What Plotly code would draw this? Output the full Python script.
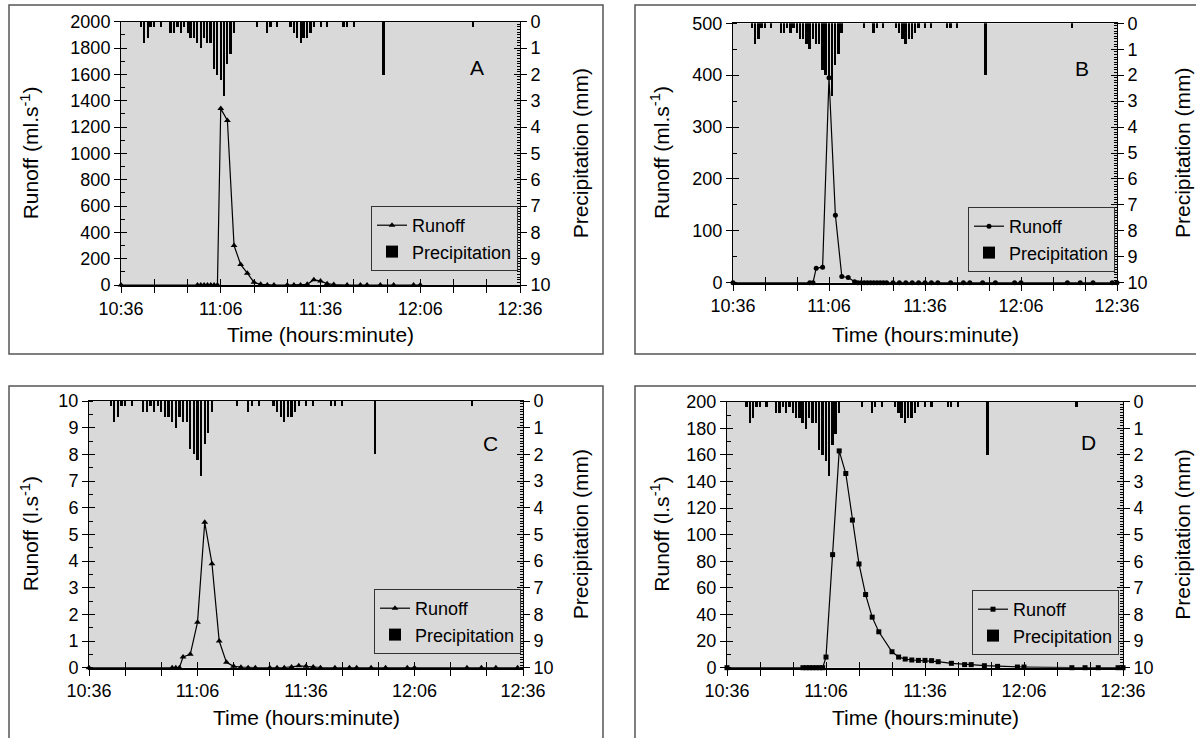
import plotly.graph_objects as go

W, H = 1196, 738

# ---------------- data ----------------
# time axis: minutes after 10:36
tick_minutes = [0, 30, 60, 90, 120]
tick_labels = ["10:36", "11:06", "11:36", "12:06", "12:36"]

# precipitation (mm) per minute (same rainfall record in all panels)
precip_min = [6, 7, 8, 9, 10, 12,
              15, 16, 17, 18, 19, 20, 21, 22, 23, 24, 25, 26, 27, 28, 29, 30, 31, 32, 33, 34,
              41, 44, 45, 47,
              51, 52, 53, 54, 55, 56, 57, 58,
              60, 62, 67, 68, 70, 79, 106]
precip_mm = [0.2, 0.8, 0.6, 0.2, 0.2, 0.2,
             0.4, 0.4, 0.2, 0.4, 0.2, 0.4, 0.6, 0.6, 0.8, 1.0, 0.6, 0.8, 0.8, 1.8, 2.0, 2.2, 2.8, 1.6, 1.2, 0.4,
             0.2, 0.4, 0.2, 0.2,
             0.2, 0.4, 0.6, 0.8, 0.6, 0.6, 0.4, 0.2,
             0.2, 0.2, 0.2, 0.2, 0.2, 2.0, 0.2]

# Panel A runoff (ml/s)
runoff_A_min = [0, 23, 24, 25, 26, 27, 28, 29, 30, 32, 34, 36, 38, 40, 42, 44, 46,
                50, 52, 54, 56, 58, 60, 62, 64, 68, 72, 74, 78, 82, 88, 90]
runoff_A = [0, 0, 0, 0, 0, 0, 0, 0, 1340, 1250, 300, 155, 90, 20, 5, 0, 0,
            0, 0, 0, 5, 40, 30, 10, 3, 0, 0, 0, 0, 0, 0, 0]

# Panel B runoff (ml/s)
runoff_B_min = [0, 24, 25, 26, 28, 30, 32, 34, 36, 38,
                39, 40, 41, 42, 43, 44, 45, 46, 47, 48,
                50, 52, 54, 56, 58, 60, 62, 64, 68, 72, 74, 78, 82, 88, 90,
                104.5, 108.5, 112.5, 118.5, 120]
runoff_B = [0, 0, 0, 28, 30, 395, 130, 12, 10, 2,
            0, 0, 0, 0, 0, 0, 0, 0, 0, 0,
            0, 0, 0, 0, 0, 0, 0, 0, 0, 0, 0, 0, 0, 0, 0,
            0, 0, 0, 0, 0]

# Panel C runoff (l/s)
runoff_C_min = [0, 23, 24, 25, 26, 28, 30, 32, 34, 36, 38, 40, 42, 44, 46,
                50, 52, 54, 56, 58, 60, 62, 64, 68, 72, 74, 78, 82, 88, 90,
                104.5, 108.5, 112.5, 118.5]
runoff_C = [0, 0, 0, 0, 0.4, 0.5, 1.7, 5.45, 3.9, 1.0, 0.2, 0.05, 0.02, 0, 0,
            0, 0, 0, 0.03, 0.07, 0.05, 0.03, 0, 0, 0, 0, 0, 0, 0, 0,
            0, 0, 0, 0]

# Panel D runoff (l/s)
runoff_D_min = [0, 23, 24, 25, 26, 27, 28, 29, 30, 32, 34, 36, 38, 40, 42, 44, 46,
                50, 52, 54, 56, 58, 60, 62, 64, 68, 72, 74, 78, 82, 88, 90,
                104.5, 108.5, 112.5, 118.5, 120]
runoff_D = [0, 0, 0, 0, 0, 0, 0, 0, 8, 85, 163, 146, 111, 78, 55, 38, 27,
            12, 8, 6.5, 5.8, 5.5, 5.5, 5.3, 4.5, 3.3, 2.3, 2.3, 1.5, 1, 0.5, 0.5,
            0, 0, 0, 0, 0]

# ---------------- layout per panel (pixels) ----------------
panels = [
    dict(letter="A", t=runoff_A_min, v=runoff_A, sym="triangle-up", msize=6, ymax=2000, dtick=200,
         ytitle="Runoff (ml.s<sup>-1</sup>)", plot=(121, 520, 21.7, 285), box=(9, 603, 5, 354),
         letter_xy=(477, 67), legend_xy=(518, 271), ytitle_x=30, rtitle_x=580, xtitle_y=334),
    dict(letter="B", t=runoff_B_min, v=runoff_B, sym="circle", msize=5, ymax=500, dtick=100,
         ytitle="Runoff (ml.s<sup>-1</sup>)", plot=(733, 1117, 23.3, 282.7), box=(635, 1210, 5, 354),
         letter_xy=(1082, 68), legend_xy=(1115, 272), ytitle_x=660, rtitle_x=1183, xtitle_y=334),
    dict(letter="C", t=runoff_C_min, v=runoff_C, sym="triangle-up", msize=6, ymax=10, dtick=1,
         ytitle="Runoff (l.s<sup>-1</sup>)", plot=(89, 523, 401, 667.7), box=(9, 603, 386, 750),
         letter_xy=(490, 443), legend_xy=(521, 654), ytitle_x=30, rtitle_x=580, xtitle_y=717),
    dict(letter="D", t=runoff_D_min, v=runoff_D, sym="square", msize=5, ymax=200, dtick=20,
         ytitle="Runoff (l.s<sup>-1</sup>)", plot=(727, 1123, 401.7, 667.7), box=(635, 1210, 386, 750),
         letter_xy=(1088, 442), legend_xy=(1119, 655), ytitle_x=660, rtitle_x=1183, xtitle_y=717),
]

FONT = "Liberation Sans, Arial, Helvetica, sans-serif"
GRAY = "#d9d9d9"
TICK_FS = 18
TITLE_FS = 21

def ax_name(kind, n):
    return kind if n == 1 else f"{kind}{n}"

def ax_key(kind, n):
    return f"{kind}axis" if n == 1 else f"{kind}axis{n}"

fig = go.Figure()
layout = dict(width=W, height=H, margin=dict(l=0, r=0, t=0, b=0, pad=0, autoexpand=False),
              paper_bgcolor="white", plot_bgcolor=GRAY,
              font=dict(family=FONT, size=TICK_FS, color="black"),
              showlegend=True, bargap=0, shapes=[], annotations=[])

minor_step = 10

for k, p in enumerate(panels):
    xm, xo = 2 * k + 1, 2 * k + 2
    yl, yr, ylo, yro = 4 * k + 1, 4 * k + 2, 4 * k + 3, 4 * k + 4
    X0, X1, Y0, Y1 = p["plot"]
    xdom = [X0 / W, X1 / W]
    ydom = [1 - Y1 / H, 1 - Y0 / H]
    leg = "legend" if k == 0 else f"legend{k + 1}"

    fig.add_trace(go.Scatter(x=p["t"], y=p["v"], mode="lines+markers", name="Runoff",
                             line=dict(color="black", width=1.2),
                             marker=dict(symbol=p["sym"], size=p["msize"], color="black"),
                             xaxis=ax_name("x", xm), yaxis=ax_name("y", yl),
                             legend=leg, cliponaxis=False))
    fig.add_trace(go.Bar(x=precip_min, y=precip_mm, width=0.6, name="Precipitation",
                         marker=dict(color="black", line=dict(width=0)),
                         xaxis=ax_name("x", xm), yaxis=ax_name("y", yr), legend=leg))
    # helper traces so the overlay tick axes are drawn
    fig.add_trace(go.Scatter(x=[None], y=[None], xaxis=ax_name("x", xo), yaxis=ax_name("y", yl),
                             showlegend=False, hoverinfo="skip"))
    fig.add_trace(go.Scatter(x=[None], y=[None], xaxis=ax_name("x", xm), yaxis=ax_name("y", ylo),
                             showlegend=False, hoverinfo="skip"))
    fig.add_trace(go.Scatter(x=[None], y=[None], xaxis=ax_name("x", xm), yaxis=ax_name("y", yro),
                             showlegend=False, hoverinfo="skip"))

    common = dict(showgrid=False, zeroline=False, tickcolor="black", tickwidth=1,
                  automargin=False)
    layout[ax_key("x", xm)] = dict(domain=xdom, anchor=ax_name("y", yl), range=[0, 120],
                                   tickmode="array", tickvals=tick_minutes, ticktext=tick_labels,
                                   ticks="outside", ticklen=6,
                                   minor=dict(tick0=0, dtick=minor_step, ticks="outside", ticklen=6,
                                              tickcolor="black"),
                                   showline=True, linecolor="black",
                                   linewidth=2, tickfont=dict(size=TICK_FS), **common)
    layout[ax_key("x", xo)] = dict(overlaying=ax_name("x", xm), anchor=ax_name("y", yl), range=[0, 120],
                                   tick0=0, dtick=minor_step, ticks="inside", ticklen=6,
                                   showticklabels=False, showline=True, linecolor="black",
                                   linewidth=1, mirror=True, side="bottom", **common)
    layout[ax_key("y", yl)] = dict(domain=ydom, anchor=ax_name("x", xm), range=[0, p["ymax"]],
                                   tick0=0, dtick=p["dtick"], ticks="outside", ticklen=6,
                                   minor=dict(dtick=p["dtick"] / 2, ticks="inside", ticklen=4,
                                              tickcolor="black"),
                                   tickformat="d", showline=True, linecolor="black", linewidth=1,
                                   tickfont=dict(size=TICK_FS), **common)
    layout[ax_key("y", ylo)] = dict(overlaying=ax_name("y", yl), anchor=ax_name("x", xm), side="left",
                                    range=[0, p["ymax"]], tick0=0, dtick=p["dtick"], ticks="inside",
                                    ticklen=6, showticklabels=False, showline=False, **common)
    layout[ax_key("y", yr)] = dict(overlaying=ax_name("y", yl), anchor=ax_name("x", xm), side="right",
                                   range=[10, 0], tick0=0, dtick=1, ticks="outside", ticklen=6,
                                   minor=dict(dtick=0.1, ticks="inside", ticklen=3, tickcolor="black"),
                                   tickformat="d", showline=True, linecolor="black", linewidth=1,
                                   tickfont=dict(size=TICK_FS), **common)
    layout[ax_key("y", yro)] = dict(overlaying=ax_name("y", yl), anchor=ax_name("x", xm), side="right",
                                    range=[10, 0], tick0=0, dtick=1, ticks="inside", ticklen=6,
                                    showticklabels=False, showline=False, **common)

    lx, ly = p["legend_xy"]
    layout[leg] = dict(x=lx / W, y=1 - ly / H, xanchor="right", yanchor="bottom",
                       bgcolor=GRAY, bordercolor="#333333", borderwidth=1,
                       font=dict(size=18, family=FONT), itemwidth=30, tracegroupgap=0,
                       traceorder="normal")

    bx0, bx1, by0, by1 = p["box"]
    layout["shapes"].append(dict(type="rect", xref="paper", yref="paper",
                                 x0=bx0 / W, x1=bx1 / W, y0=1 - by1 / H, y1=1 - by0 / H,
                                 line=dict(color="#555555", width=1.5), fillcolor="rgba(0,0,0,0)",
                                 layer="below"))

    ann = layout["annotations"]
    ann.append(dict(text="Time (hours:minute)", xref="paper", yref="paper",
                    x=(X0 + X1) / 2 / W, y=1 - p["xtitle_y"] / H, showarrow=False,
                    xanchor="center", yanchor="middle", font=dict(size=TITLE_FS)))
    ann.append(dict(text=p["ytitle"], xref="paper", yref="paper", textangle=-90,
                    x=p["ytitle_x"] / W, y=1 - (Y0 + Y1) / 2 / H, showarrow=False,
                    xanchor="center", yanchor="middle", font=dict(size=TITLE_FS)))
    ann.append(dict(text="Precipitation (mm)", xref="paper", yref="paper", textangle=-90,
                    x=p["rtitle_x"] / W, y=1 - (Y0 + Y1) / 2 / H, showarrow=False,
                    xanchor="center", yanchor="middle", font=dict(size=TITLE_FS)))
    lx2, ly2 = p["letter_xy"]
    ann.append(dict(text=p["letter"], xref="paper", yref="paper", x=lx2 / W, y=1 - ly2 / H,
                    showarrow=False, xanchor="center", yanchor="middle", font=dict(size=TITLE_FS)))

fig.update_layout(**layout)
# remove the browser's default page margin so the figure starts at the window's corner
fig.write_html("out.html", config={"displayModeBar": False},
               post_script="document.body.style.margin='0';document.body.style.overflow='hidden';")
